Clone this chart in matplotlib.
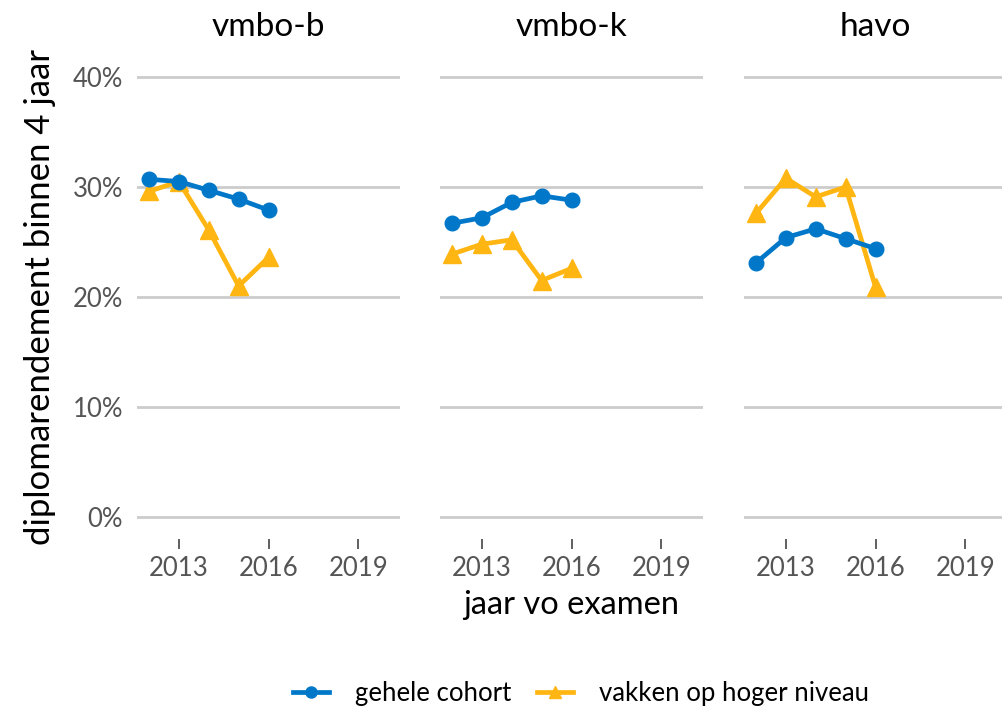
import matplotlib.pyplot as plt
from matplotlib.ticker import FuncFormatter
from matplotlib.lines import Line2D

plt.rcParams['font.family'] = ['Lato', 'DejaVu Sans']

jaren = [2012, 2013, 2014, 2015, 2016]
niveaus = ['vmbo-b', 'vmbo-k', 'havo']

# diplomarendement binnen 4 jaar (%)
gehele_cohort = {
    'vmbo-b': [30.7, 30.5, 29.7, 28.9, 27.9],
    'vmbo-k': [26.7, 27.2, 28.6, 29.2, 28.8],
    'havo':   [23.1, 25.4, 26.2, 25.3, 24.4],
}
hoger_niveau = {
    'vmbo-b': [29.6, 30.5, 26.1, 21.0, 23.6],
    'vmbo-k': [23.9, 24.8, 25.2, 21.5, 22.6],
    'havo':   [27.6, 30.8, 29.1, 30.0, 20.9],
}

blauw = '#0077c8'
oranje = '#ffb612'
W, H = 1003, 711

fig = plt.figure(figsize=(W / 100, H / 100), dpi=100)
lefts = [137, 440, 744]
breedte = 263
top, bottom = 55, 539

for i, niv in enumerate(niveaus):
    ax = fig.add_axes([lefts[i] / W, 1 - bottom / H, breedte / W, (bottom - top) / H])
    ax.plot(jaren, gehele_cohort[niv], color=blauw, lw=3.4, marker='o', ms=10.5, zorder=3)
    ax.plot(jaren, hoger_niveau[niv], color=oranje, lw=3.4, marker='^', ms=12.5, zorder=2)
    ax.set_xlim(2011.6, 2020.4)
    ax.set_ylim(-2, 42)
    ax.set_xticks([2013, 2016, 2019])
    ax.set_yticks([0, 10, 20, 30, 40])
    ax.grid(axis='y', color='#cccccc', lw=2)
    ax.set_axisbelow(True)
    for s in ax.spines.values():
        s.set_visible(False)
    ax.tick_params(axis='x', length=7, width=1.2, color='#444444', labelcolor='#555555',
                   labelsize=18.5, pad=5)
    ax.tick_params(axis='y', length=0, labelcolor='#555555', labelsize=18.5, pad=10)
    if i == 0:
        ax.yaxis.set_major_formatter(FuncFormatter(lambda v, p: f'{v:.0f}%'))
        ax.set_ylabel('diplomarendement binnen 4 jaar', fontsize=25, labelpad=12)
    else:
        ax.set_yticklabels([])
    if i == 1:
        ax.set_xlabel('jaar vo examen', fontsize=23.5, labelpad=7)
    ax.set_title(niv, fontsize=24, pad=14)

handles = [
    Line2D([], [], color=blauw, lw=3.4, marker='o', ms=8),
    Line2D([], [], color=oranje, lw=3.4, marker='^', ms=9),
]
fig.legend(handles, ['gehele cohort', 'vakken op hoger niveau'], loc='center',
           bbox_to_anchor=(581 / W, 1 - 693 / H), ncol=2, frameon=False, fontsize=18.5,
           handlelength=1.4, columnspacing=1.0, handletextpad=1.0)

fig.savefig('out.png', dpi=100)
